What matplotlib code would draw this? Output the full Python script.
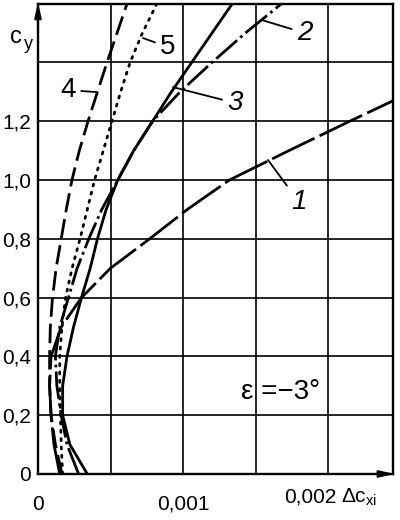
import matplotlib
matplotlib.use("Agg")
import matplotlib.pyplot as plt
import numpy as np

plt.rcParams["font.family"] = ["Liberation Sans", "DejaVu Sans"]
plt.rcParams["mathtext.fontset"] = "custom"
plt.rcParams["mathtext.rm"] = "Liberation Sans"
plt.rcParams["mathtext.it"] = "Liberation Sans"
plt.rcParams["lines.scale_dashes"] = False

### data (dcx in units of 1e-3)
cy_1 = [0, 0.1, 0.2, 0.3, 0.4, 0.5, 0.6, 0.7, 0.8, 0.9, 1.0, 1.1, 1.2, 1.27]
dcx_1 = [0.15, 0.11, 0.09, 0.08, 0.09, 0.16, 0.30, 0.50, 0.77, 1.03, 1.32, 1.73, 2.15, 2.45]

cy_full = [0, 0.1, 0.2, 0.3, 0.4, 0.5, 0.6, 0.7, 0.8, 0.9, 1.0, 1.1, 1.2, 1.3, 1.4, 1.5, 1.6]
dcx_2 = [0.28, 0.20, 0.16, 0.13, 0.12, 0.15, 0.21, 0.27, 0.35, 0.44, 0.55, 0.66, 0.79, 0.98, 1.20, 1.43, 1.68]
dcx_3 = [0.34, 0.22, 0.17, 0.17, 0.20, 0.245, 0.30, 0.36, 0.41, 0.47, 0.55, 0.66, 0.79, 0.92, 1.06, 1.20, 1.34]
dcx_4 = [0.165, 0.12, 0.09, 0.08, 0.08, 0.085, 0.10, 0.125, 0.16, 0.195, 0.234, 0.285, 0.345, 0.41, 0.476, 0.545, 0.614]
dcx_5 = [0.17, 0.16, 0.155, 0.15, 0.15, 0.165, 0.19, 0.235, 0.29, 0.34, 0.39, 0.45, 0.51, 0.57, 0.635, 0.72, 0.82]

y_ticks = [0, 0.2, 0.4, 0.6, 0.8, 1.0, 1.2]
y_ticklabels = ["0", "0,2", "0,4", "0,6", "0,8", "1,0", "1,2"]

fig = plt.figure(figsize=(4, 5.2), dpi=100)
ax = fig.add_axes([0.095, 0.0885, 0.8875, 0.9045])

k = 1e-3
lw = 2.0
ax.plot(np.array(dcx_1) * k, cy_1, color="black", lw=lw, dashes=(34, 4))
ax.plot(np.array(dcx_2) * k, cy_full, color="black", lw=lw, dashes=(20, 3, 2, 3))
ax.plot(np.array(dcx_3) * k, cy_full, color="black", lw=lw)
ax.plot(np.array(dcx_4) * k, cy_full, color="black", lw=lw, dashes=(14, 5))
ax.plot(np.array(dcx_5) * k, cy_full, color="black", lw=lw, dashes=(1.5, 4.5), dash_capstyle="round")

ax.set_xlim(0, 0.002448)
ax.set_ylim(0, 1.6)

# grid
for gx in [0.0005, 0.001, 0.0015, 0.002]:
    ax.axvline(gx, color="black", lw=1.2, zorder=0)
for gy in [0.2, 0.4, 0.6, 0.8, 1.0, 1.2, 1.4]:
    ax.axhline(gy, color="black", lw=1.2, zorder=0)

for s in ax.spines.values():
    s.set_linewidth(1.7)

ax.set_yticks(y_ticks)
ax.set_yticklabels(y_ticklabels, fontsize=15)
ax.set_xticks([0, 0.001])
ax.set_xticklabels(["0", "0,001"], fontsize=15)
ax.tick_params(length=0, pad=5)
ax.tick_params(axis="x", pad=15)

ax.text(0.00188, -0.078, "0,002", fontsize=15, ha="center", va="center")
ax.text(0.00209, -0.078, r"$\Delta c_{\mathrm{xi}}$", fontsize=15, ha="left", va="center")

# c_y label, top left outside the axes
ax.text(-0.000193, 1.466, "c", fontsize=17, ha="left", va="baseline", clip_on=False)
ax.text(-0.000100, 1.445, "y", fontsize=13, ha="left", va="baseline", clip_on=False)

# arrows on axes
ax.annotate("", xy=(0, 1.615), xytext=(0, 1.5),
            arrowprops=dict(arrowstyle="-|>,head_length=0.9,head_width=0.2", color="black", lw=1.5),
            annotation_clip=False)
ax.annotate("", xy=(0.00248, 0), xytext=(0.00235, 0),
            arrowprops=dict(arrowstyle="-|>,head_length=0.9,head_width=0.2", color="black", lw=1.5),
            annotation_clip=False)

# curve labels
leader = dict(arrowstyle="-", color="black", lw=1.3, shrinkA=2, shrinkB=0)
ax.annotate("1", xy=(0.001586, 1.068), xytext=(0.00180, 0.925), fontsize=20,
            style="italic", ha="center", va="center", arrowprops=leader)
ax.annotate("2", xy=(0.001545, 1.544), xytext=(0.00184, 1.50), fontsize=20,
            style="italic", ha="center", va="center", arrowprops=leader)
ax.annotate("3", xy=(0.000931, 1.316), xytext=(0.00136, 1.262), fontsize=20,
            style="italic", ha="center", va="center", arrowprops=leader)
ax.annotate("4", xy=(0.000407, 1.299), xytext=(0.000207, 1.306), fontsize=20,
            ha="center", va="center", arrowprops=leader)
ax.annotate("5", xy=(0.000724, 1.483), xytext=(0.000897, 1.452), fontsize=20,
            ha="center", va="center", arrowprops=leader)

ax.text(0.00167, 0.279, "ε =−3°", fontsize=20, ha="center", va="center")

fig.savefig("out.png", dpi=100)
